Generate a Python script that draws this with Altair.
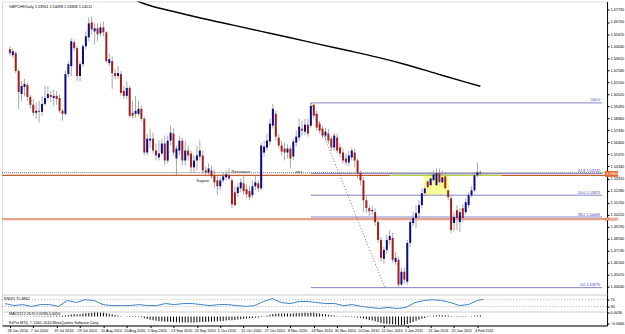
import altair as alt
import pandas as pd

# ---------------- data ----------------
opens = [1.6437,1.6386,1.6403,1.6250,1.6054,1.6114,1.6131,1.6029,1.5961,1.5893,
         1.5910,1.5901,1.5969,1.6020,1.6046,1.6020,1.6038,1.6020,1.5910,1.5884,
         1.6224,1.6293,1.6497,1.6446,1.6208,1.6309,1.6462,1.6539,1.6667,1.6590,
         1.6616,1.6573,1.6624,1.6582,1.6318,1.6335,1.6233,1.6208,1.6224,1.6080,
         1.6038,1.6106,1.5893,1.5884,1.5884,1.5927,1.5842,1.5553,1.5655,1.5672,
         1.5570,1.5511,1.5545,1.5630,1.5485,1.5655,1.5715,1.5502,1.5570,1.5655,
         1.5485,1.5570,1.5545,1.5426,1.5485,1.5519,1.5528,1.5400,1.5383,1.5400,
         1.5358,1.5315,1.5264,1.5315,1.5341,1.5358,1.5315,1.5213,1.5205,1.5247,
         1.5290,1.5239,1.5222,1.5188,1.5264,1.5290,1.5247,1.5553,1.5596,1.5647,
         1.5783,1.5884,1.5681,1.5613,1.5587,1.5553,1.5587,1.5519,1.5638,1.5681,
         1.5757,1.5732,1.5791,1.5783,1.5961,1.5884,1.5800,1.5757,1.5698,1.5715,
         1.5672,1.5596,1.5681,1.5596,1.5553,1.5502,1.5468,1.5511,1.5553,1.5485,
         1.5375,1.5315,1.5145,1.5077,1.5051,1.5043,1.4958,1.4805,1.4644,1.4720,
         1.4805,1.4822,1.4618,1.4635,1.4423,1.4533,1.4448,1.4780,1.4950,1.4992,
         1.5034,1.5103,1.5205,1.5307,1.5273,1.5315,1.5273,1.5375,1.5298,1.5349,
         1.5230,1.5162,1.4950,1.5060,1.4958,1.5077,1.5043,1.5103,1.5188,1.5230,
         1.5358,1.5383]
highs = [1.6462,1.6445,1.6420,1.6267,1.6165,1.6182,1.6148,1.6046,1.6012,1.5978,
         1.5995,1.6038,1.6123,1.6123,1.6080,1.6089,1.6080,1.6054,1.5927,1.6250,
         1.6335,1.6531,1.6522,1.6462,1.6335,1.6480,1.6590,1.6709,1.6718,1.6658,
         1.6658,1.6658,1.6675,1.6590,1.6403,1.6377,1.6267,1.6293,1.6250,1.6123,
         1.6165,1.6123,1.5995,1.6038,1.5995,1.5952,1.5859,1.5714,1.5757,1.5723,
         1.5630,1.5655,1.5672,1.5698,1.5698,1.5783,1.5757,1.5613,1.5698,1.5681,
         1.5655,1.5613,1.5570,1.5528,1.5613,1.5655,1.5570,1.5434,1.5460,1.5443,
         1.5400,1.5358,1.5341,1.5383,1.5400,1.5417,1.5332,1.5264,1.5290,1.5332,
         1.5358,1.5281,1.5264,1.5315,1.5358,1.5315,1.5638,1.5655,1.5715,1.5842,
         1.5969,1.5910,1.5715,1.5655,1.5638,1.5621,1.5613,1.5672,1.5740,1.5842,
         1.5825,1.5842,1.5842,1.5978,1.5969,1.5910,1.5825,1.5783,1.5766,1.5757,
         1.5698,1.5723,1.5715,1.5630,1.5587,1.5545,1.5570,1.5596,1.5587,1.5502,
         1.5400,1.5341,1.5188,1.5103,1.5094,1.5077,1.4975,1.4831,1.4746,1.4848,
         1.4890,1.4865,1.4703,1.4661,1.4567,1.4567,1.4805,1.4992,1.5043,1.5103,
         1.5145,1.5247,1.5290,1.5366,1.5375,1.5400,1.5417,1.5417,1.5400,1.5383,
         1.5264,1.5188,1.5043,1.5103,1.5077,1.5111,1.5162,1.5213,1.5264,1.5383,
         1.5468,1.5400]
lows = [1.6377,1.6360,1.6233,1.5927,1.5995,1.6038,1.5995,1.5927,1.5868,1.5842,
        1.5808,1.5868,1.5952,1.6003,1.5986,1.5952,1.5961,1.5893,1.5825,1.5868,
        1.6199,1.6208,1.6420,1.6165,1.6165,1.6284,1.6437,1.6505,1.6565,1.6480,
        1.6505,1.6548,1.6548,1.6318,1.6293,1.6097,1.6182,1.6182,1.6038,1.6012,
        1.6012,1.5851,1.5842,1.5851,1.5868,1.5825,1.5528,1.5528,1.5596,1.5545,
        1.5485,1.5485,1.5528,1.5443,1.5460,1.5613,1.5528,1.5358,1.5528,1.5443,
        1.5443,1.5485,1.5383,1.5383,1.5400,1.5485,1.5375,1.5349,1.5358,1.5332,
        1.5247,1.5188,1.5230,1.5298,1.5315,1.5315,1.5077,1.5094,1.5171,1.5213,
        1.5188,1.5162,1.5145,1.5162,1.5230,1.5213,1.5230,1.5519,1.5570,1.5613,
        1.5757,1.5655,1.5587,1.5528,1.5485,1.5502,1.5417,1.5485,1.5604,1.5655,
        1.5698,1.5698,1.5689,1.5766,1.5842,1.5740,1.5715,1.5672,1.5655,1.5630,
        1.5570,1.5570,1.5545,1.5511,1.5460,1.5443,1.5434,1.5485,1.5426,1.5332,
        1.5273,1.5043,1.5034,1.5009,1.5017,1.4924,1.4780,1.4618,1.4601,1.4686,
        1.4763,1.4610,1.4593,1.4397,1.4414,1.4431,1.4423,1.4746,1.4924,1.4907,
        1.4992,1.5077,1.5179,1.5230,1.5230,1.5281,1.5230,1.5256,1.5247,1.5213,
        1.5145,1.4865,1.4882,1.4890,1.4873,1.4958,1.5026,1.5077,1.5171,1.5213,
        1.5341,1.5358]
closes = [1.6403,1.6420,1.6250,1.6071,1.6123,1.6140,1.6029,1.5961,1.5893,1.5910,
          1.5901,1.5969,1.6020,1.6054,1.6029,1.6038,1.6012,1.5910,1.5884,1.6224,
          1.6309,1.6505,1.6446,1.6208,1.6309,1.6462,1.6548,1.6658,1.6607,1.6616,
          1.6565,1.6624,1.6582,1.6335,1.6352,1.6233,1.6208,1.6233,1.6063,1.6038,
          1.6106,1.5868,1.5868,1.5910,1.5927,1.5842,1.5553,1.5672,1.5672,1.5570,
          1.5528,1.5545,1.5630,1.5485,1.5655,1.5723,1.5553,1.5587,1.5655,1.5485,
          1.5570,1.5528,1.5426,1.5485,1.5528,1.5570,1.5400,1.5383,1.5417,1.5349,
          1.5298,1.5264,1.5315,1.5349,1.5366,1.5332,1.5111,1.5103,1.5256,1.5298,
          1.5222,1.5196,1.5171,1.5264,1.5298,1.5247,1.5613,1.5604,1.5655,1.5800,
          1.5927,1.5689,1.5613,1.5562,1.5553,1.5587,1.5502,1.5647,1.5689,1.5774,
          1.5740,1.5791,1.5715,1.5952,1.5868,1.5766,1.5740,1.5698,1.5732,1.5655,
          1.5596,1.5698,1.5570,1.5545,1.5485,1.5468,1.5528,1.5570,1.5485,1.5375,
          1.5315,1.5145,1.5077,1.5051,1.5060,1.4958,1.4805,1.4652,1.4720,1.4805,
          1.4839,1.4635,1.4652,1.4423,1.4533,1.4465,1.4780,1.4958,1.4992,1.5034,
          1.5103,1.5205,1.5247,1.5256,1.5332,1.5366,1.5375,1.5298,1.5341,1.5247,
          1.5171,1.4890,1.5000,1.4992,1.5043,1.4992,1.5128,1.5188,1.5230,1.5358,
          1.5383,1.5375]

ma_idx = [40, 46, 56, 66, 76, 86, 96, 106, 116, 126, 136, 146, 156, 161]
ma_val = [1.6890, 1.6826, 1.6760, 1.6700, 1.6645, 1.6590, 1.6535, 1.6478,
          1.6424, 1.6367, 1.6302, 1.6228, 1.6155, 1.6120]

rsi_idx = list(range(0, 160, 3)) + [161]
rsi_val = [47, 35, 41, 30, 41, 41, 30, 65, 53, 70, 65, 41, 35, 35, 35, 41, 35, 35,
           47, 41, 47, 47, 41, 35, 41, 41, 35, 30, 35, 59, 76, 53, 47, 59, 59, 53,
           47, 47, 35, 41, 30, 24, 18, 24, 18, 24, 53, 65, 70, 65, 53, 35, 41, 65, 71.5]

hist = [0.3,0.3,0.2,0.2,0.2,0.3,0.3,0.3, 0.3,0.4,0.4,0.5,0.6,0.7,0.8,0.8,
        0.8,0.7,0.7,1.2,1.6,2.0,2.2,2.2, 2.4,2.8,3.2,3.6,3.8,4.0,4.0,3.9,
        3.8,3.3,2.8,2.2,1.6,1.0,0.4,0.0, -0.3,-0.5,-0.5,-0.6,-0.6,-0.8,-1.8,-2.6,
        -3.2,-3.8,-4.3,-4.7,-4.9,-5.2,-5.2,-5.3, -5.6,-5.8,-5.9,-6.0,-6.0,-6.0,-5.9,-5.9,
        -5.7,-5.6,-5.5,-5.4,-5.3,-5.2,-5.1,-4.9, -4.7,-4.4,-4.1,-3.8,-3.7,-3.4,-3.0,-2.7,
        -2.3,-2.0,-1.8,-1.5,-1.2,-1.0,-0.5,0.3, 1.0,1.8,2.5,2.8,3.0,3.1,3.1,3.0,
        2.9,3.0,3.2,3.4,3.6,3.7,3.6,3.8, 3.7,3.4,3.0,2.6,2.2,1.8,1.4,1.0,
        0.6,0.2,-0.2,-0.5,-0.6,-0.6,-0.7,-0.9, -1.3,-2.0,-2.7,-3.4,-4.1,-4.8,-5.6,-6.4,
        -6.9,-7.2,-7.4,-7.8,-8.0,-8.4,-8.5,-8.5, -7.6,-6.5,-5.4,-4.3,-3.3,-2.3,-1.4,-0.6,
        0.2,0.7,1.1,1.3,1.4,1.3,1.1,0.4, -0.2,-0.5,-0.6,-0.6,-0.4,-0.1,0.3,0.8,
        1.1,1.3]
hist = [v / 1000 for v in hist]

date_labels = ["28 Jun 2010", "7 Jul 2010", "19 Jul 2010", "29 Jul 2010", "10 Aug 2010",
               "20 Aug 2010", "1 Sep 2010", "13 Sep 2010", "23 Sep 2010", "5 Oct 2010",
               "15 Oct 2010", "27 Oct 2010", "8 Nov 2010", "18 Nov 2010", "30 Nov 2010",
               "10 Dec 2010", "22 Dec 2010", "3 Jan 2011", "13 Jan 2011", "25 Jan 2011",
               "4 Feb 2011"]
date_idx = list(range(0, 161, 8))

price_ticks = [1.6773, 1.6670, 1.6567, 1.6464, 1.6361, 1.6258, 1.6155, 1.6052, 1.5949,
               1.5846, 1.5743, 1.5640, 1.5537, 1.5434, 1.5331, 1.5228, 1.5125, 1.5022,
               1.4919, 1.4816, 1.4713, 1.4610, 1.4507, 1.4404]

fib_pct = ["100.0", "61.8 1.53742", "50.0 1.51875", "38.2 1.50009", "0.0 1.43975"]
fib_val = [1.5978, 1.5374, 1.5188, 1.5001, 1.4397]
fib_start = 103

line_dotted = 1.5380
line_orange = 1.5358
line_salmon = 1.4984

# price tags on the scale for the two coloured horizontal lines
tag_top = [1.5395, 1.4996]
tag_bot = [1.5345, 1.4972]
tag_txt = ["1.53800", "1.49840"]
tag_col = ["#e0662e", "#e8745a"]

title_text = "GBPCHF,Daily  1.53961 1.54098 1.53808 1.54011"

# ---------------- chart ----------------
W = 607
FONT = "Liberation Sans"
FS = 3.8
X0, X1 = -1, 202.67
xs = alt.Scale(domain=[X0, X1], nice=False, zero=False)
ys = alt.Scale(domain=[1.43375, 1.6845], nice=False, zero=False)

AX = dict(labelFontSize=FS, labelFont=FONT, tickSize=2, labelPadding=1, grid=False,
          title=None, labelColor="#000", domainColor="#000", tickColor="#000",
          labelOverlap=False)
yaxis = alt.Axis(orient="right", values=price_ticks, format=".5f", labelLimit=15, **AX)
rsi_axis = alt.Axis(orient="right", values=[70, 30], **AX)
m_axis = alt.Axis(orient="right", values=[0.0036, -0.0066], format=".4f", labelLimit=15, **AX)
xaxis = alt.Axis(values=date_idx, labelExpr="%s[round(datum.value/8)]" % str(date_labels),
                 labelAlign="left", labelFlush=False, labelOffset=-3, **AX)

def X(field="i"):
    return alt.X(field + ":Q", scale=xs, axis=None)

def Y(field):
    return alt.Y(field + ":Q", scale=ys, axis=yaxis)

n = len(closes)
df = pd.DataFrame({"i": list(range(n)), "o": opens, "h": highs, "l": lows, "c": closes})
df["dir"] = ["up" if c >= o else "down" for o, c in zip(opens, closes)]

base = alt.Chart(df)
wick = base.mark_rule(color="#a9a9a9", strokeWidth=1).encode(x=X(), y=Y("l"), y2="h:Q")
body = base.mark_bar(size=2).encode(
    x=X(), y=Y("o"), y2="c:Q",
    color=alt.Color("dir:N", scale=alt.Scale(domain=["up", "down"],
                                             range=["#0b0b8a", "#a31d1d"]), legend=None))

rect_df = pd.DataFrame({"x1": [141.7], "x2": [150.3], "y1": [1.5358], "y2": [1.5188]})
yellow = alt.Chart(rect_df).mark_rect(color="#ffff80", opacity=0.8).encode(
    x=X("x1"), x2="x2:Q", y=Y("y1"), y2="y2:Q")

def hrule(val, color, width=1, dash=None):
    kw = dict(color=color, strokeWidth=width)
    if dash:
        kw["strokeDash"] = dash
    return alt.Chart(pd.DataFrame({"p": [val]})).mark_rule(**kw).encode(y=Y("p"))

dotted = hrule(line_dotted, "#6a6a6a", 1, [1, 1])
orange = hrule(line_orange, "#c0602e", 1.2)
salmon = hrule(line_salmon, "#e7a287", 2.2)

fib_df = pd.DataFrame({"x1": [fib_start] * 5, "x2": [X1] * 5, "p": fib_val, "t": fib_pct})
fib = alt.Chart(fib_df).mark_rule(color="#8585c8", strokeWidth=1).encode(
    x=X("x1"), x2="x2:Q", y=Y("p"))
fib_txt = alt.Chart(fib_df).mark_text(align="right", baseline="bottom", dy=-0.5, dx=-2,
                                      fontSize=FS, font=FONT, color="#3a3ab8").encode(
    x=X("x2"), y=Y("p"), text="t:N")

diag_df = pd.DataFrame({"i": [103, 128.3], "p": [1.5978, 1.4397]})
diag = alt.Chart(diag_df).mark_line(color="#555", strokeWidth=0.8, strokeDash=[1, 2]).encode(
    x=X(), y=Y("p"))

green_df = pd.DataFrame({"x1": [130], "x2": [168.3], "p": [1.5358]})
green = alt.Chart(green_df).mark_rule(color="#a8d04a", strokeWidth=1.2).encode(
    x=X("x1"), x2="x2:Q", y=Y("p"))

ma_df = pd.DataFrame({"i": ma_idx, "p": ma_val})
ma = alt.Chart(ma_df).mark_line(color="#000", strokeWidth=1.4, clip=True,
                                interpolate="monotone").encode(x=X(), y=Y("p"))

ann_df = pd.DataFrame({"i": [66, 79, 99], "p": [1.5312, 1.5385, 1.5376],
                       "t": ["Support", "Resistance", "PP1"]})
ann = alt.Chart(ann_df).mark_text(fontSize=FS, font=FONT, color="#222").encode(
    x=X(), y=Y("p"), text="t:N")

title_df = pd.DataFrame({"i": [-0.3], "p": [1.6800], "t": [title_text]})
title = alt.Chart(title_df).mark_text(fontSize=FS, font=FONT, align="left", color="#000").encode(
    x=X(), y=Y("p"), text="t:N")

tag_df = pd.DataFrame({"x1": [X1 + 1.0] * 2, "x2": [X1 + 5.5] * 2, "y1": tag_top,
                       "y2": tag_bot, "t": tag_txt, "col": tag_col,
                       "ym": [(a + b) / 2 for a, b in zip(tag_top, tag_bot)]})
tags = alt.Chart(tag_df).mark_rect().encode(
    x=X("x1"), x2="x2:Q", y=Y("y1"), y2="y2:Q",
    color=alt.Color("col:N", scale=None, legend=None))
tag_txt_l = alt.Chart(tag_df).mark_text(fontSize=FS, font=FONT, align="left",
                                        color="#ffffff", dx=1).encode(
    x=X("x1"), y=Y("ym"), text="t:N")

main = alt.layer(wick, yellow, dotted, orange, salmon, fib, green, diag, ma, body,
                 fib_txt, ann, title, tags, tag_txt_l).properties(width=W, height=294)

# RSI panel
rs = alt.Scale(domain=[0, 100], nice=False)
rsi_df = pd.DataFrame({"i": rsi_idx, "v": rsi_val})
RY = alt.Y("v:Q", scale=rs, axis=rsi_axis)
rsi_line = alt.Chart(rsi_df).mark_line(color="#3b82c8", strokeWidth=1).encode(x=X(), y=RY)
lvl = alt.Chart(pd.DataFrame({"v": [70, 30]})).mark_rule(
    color="#9a9a9a", strokeDash=[1, 2], strokeWidth=0.8).encode(y=RY)
rsi_txt = alt.Chart(pd.DataFrame({"i": [-0.3], "v": [72], "t": ["RSI(9) 71.4862"]})).mark_text(
    fontSize=FS, font=FONT, align="left", color="#000").encode(x=X(), y=RY, text="t:N")
rsi = alt.layer(rsi_line, lvl, rsi_txt).properties(width=W, height=17)

# MACD panel
ms = alt.Scale(domain=[-0.009, 0.005], nice=False, zero=False)
MX = alt.X("i:Q", scale=xs, axis=xaxis)
MY = alt.Y("v:Q", scale=ms, axis=m_axis)
h_df = pd.DataFrame({"i": list(range(n)), "v": hist})
mbars = alt.Chart(h_df).mark_bar(size=1, color="#000").encode(x=MX, y=MY, y2=alt.datum(0))
m_txt = alt.Chart(pd.DataFrame({"i": [-0.3, -0.3], "v": [0.0027, -0.0064],
                                "t": ["MACD(12,26,9) 0.0036 0.0050",
                                      "FxPro MT4, \u00a9 2001-2010 MetaQuotes Software Corp."]})
                  ).mark_text(fontSize=FS, font=FONT, align="left", color="#000").encode(
    x=MX, y=MY, text="t:N")
macd = alt.layer(mbars, m_txt).properties(width=W, height=14)

chart = alt.vconcat(main, rsi, macd, spacing=0, bounds="flush", padding=0).configure_view(
    stroke="#000", strokeWidth=1).configure(background="#ffffff")

chart.save("out.html", embed_options={"renderer": "svg", "actions": False})
